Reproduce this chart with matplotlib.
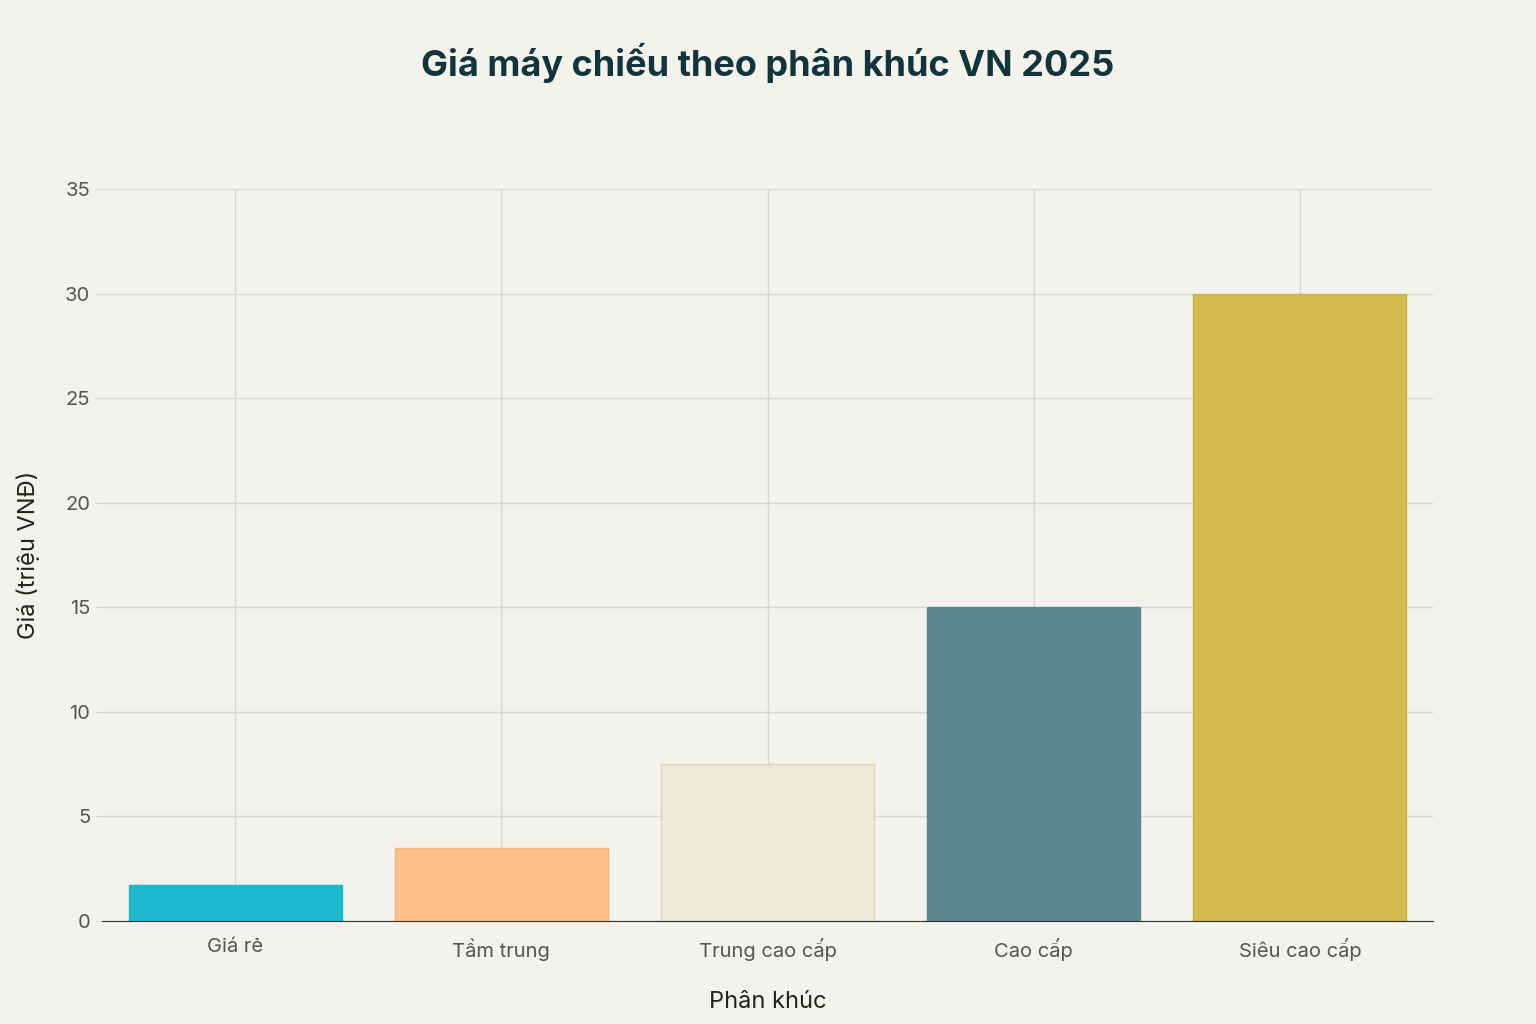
import matplotlib
matplotlib.use("Agg")
import matplotlib.pyplot as plt

categories = ["Giá rẻ", "Tầm trung", "Trung cao cấp", "Cao cấp", "Siêu cao cấp"]
prices = [1.7, 3.5, 7.5, 15, 30]
colors = ["#1FB8CD", "#FFC185", "#ECEBD5", "#5D878F", "#D2BA4C"]
yticks = [0, 5, 10, 15, 20, 25, 30, 35]

plt.rcParams['font.family'] = ['Inter', 'DejaVu Sans']
bg = "#F3F2EC"
fig = plt.figure(figsize=(15.36, 10.24), dpi=100, facecolor=bg)
ax = fig.add_axes([102/1536, 1-921/1024, 1331/1536, 732/1024], facecolor=bg)
x = range(len(categories))
ax.bar(x, prices, width=0.8, color=colors, edgecolor=["#1FB8CD", "#F5B57A", "#D8D6C0", "#5D878F", "#C8B045"], linewidth=1, zorder=2)
ax.set_xlim(-0.5, 4.5)
ax.set_ylim(0, 35)
ax.set_yticks(yticks)
ax.set_xticks(list(x))
ax.set_xticklabels(categories)
ax.grid(True, color="#D8D8D3", linewidth=1, zorder=0)
for s in ["top", "right", "left"]:
    ax.spines[s].set_visible(False)
ax.spines["bottom"].set_color("#333333")
ax.tick_params(axis="both", colors="#555555", labelsize=14.5, length=5)
ax.tick_params(axis="y", color="#D8D8D3")
ax.tick_params(axis="x", length=0, pad=12)
ax.set_xlabel("Phân khúc", fontsize=17, color="#222222", labelpad=22)
ax.set_ylabel("Giá (triệu VNĐ)", fontsize=17, color="#222222", labelpad=18)
fig.text(0.5, 1-63/1024, "Giá máy chiếu theo phân khúc VN 2025", ha="center", va="center",
         fontsize=26, fontweight="bold", color="#13343B")
fig.savefig("out.png", dpi=100, facecolor=bg)
